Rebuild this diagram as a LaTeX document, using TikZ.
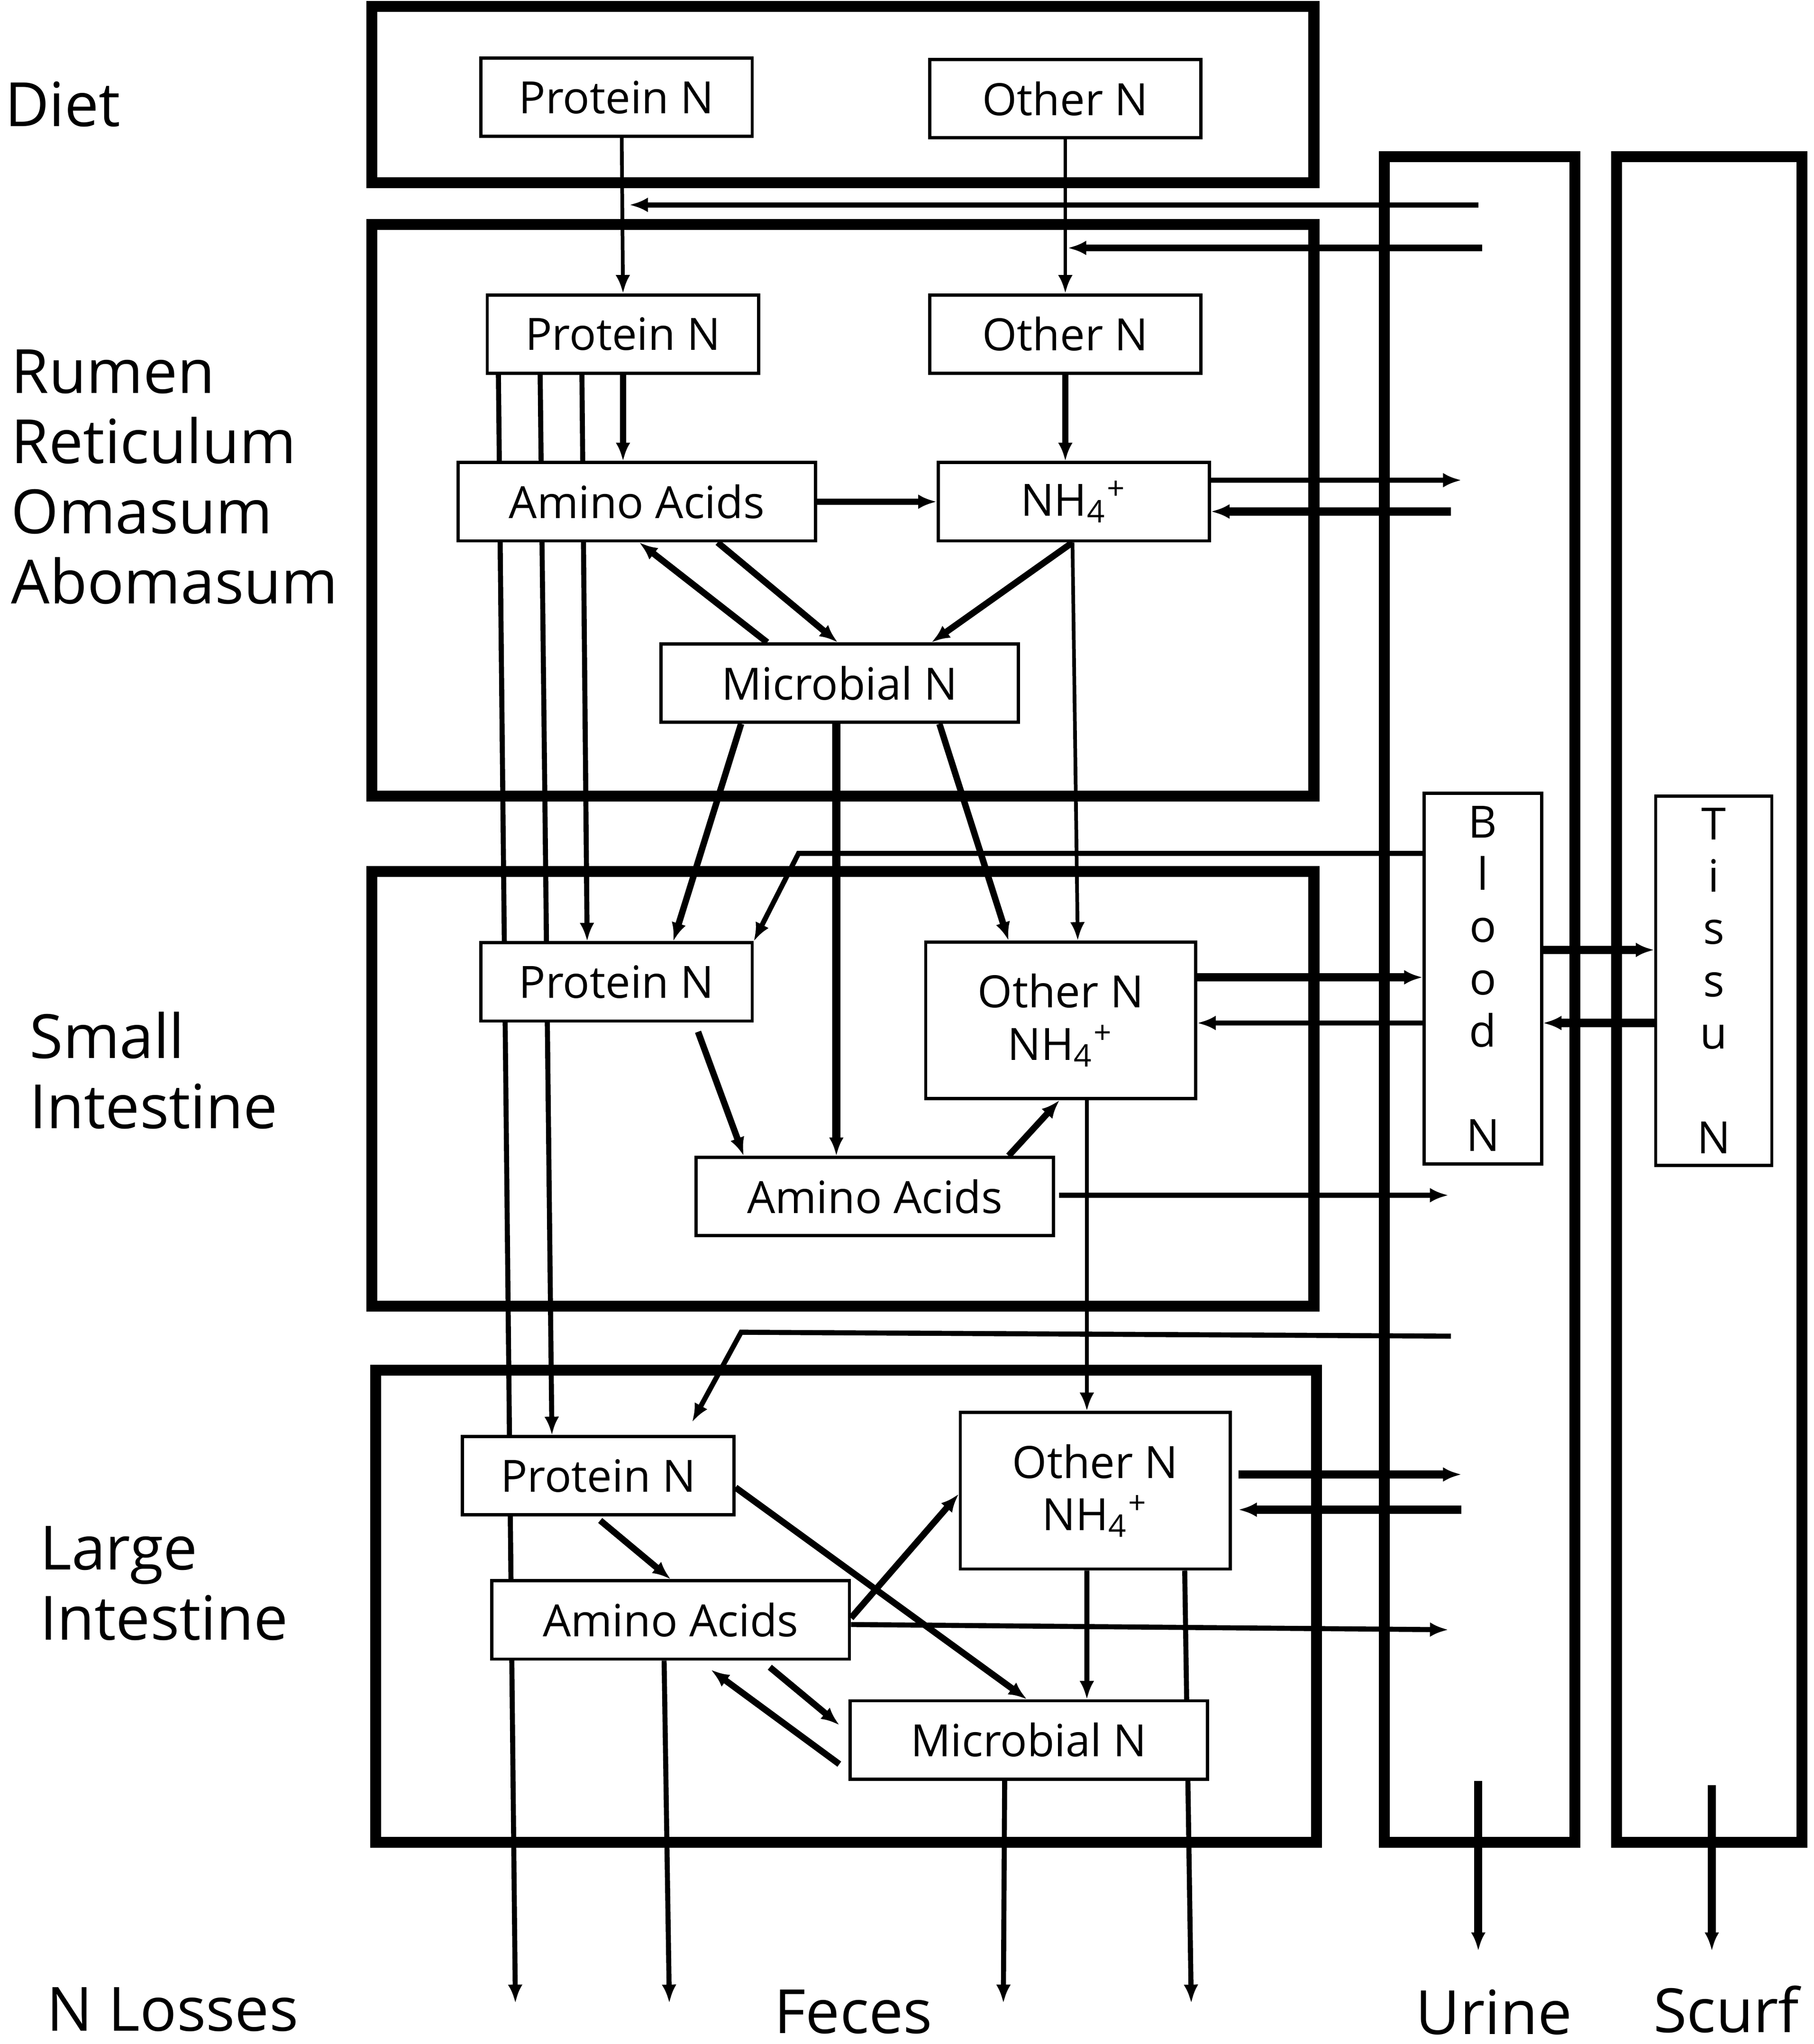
\documentclass[tikz,border=0pt]{standalone}
\usepackage{fontspec}
\setmainfont{Open Sans}
\usetikzlibrary{arrows.meta,backgrounds}

\newcommand{\boxfont}{\fontsize{9.7}{11.4}\selectfont}
\newcommand{\labfont}{\fontsize{13.3}{15.3}\selectfont}
\newcommand{\ammon}{NH\textsubscript{4}\textsuperscript{+}}

\tikzset{
  nbox/.style={draw, line width=.7pt, fill=white, inner sep=0pt, font=\boxfont,
    align=center, minimum width=2.08cm, minimum height=.6cm},
  wbox/.style={nbox, minimum width=2.74cm},
  tbox/.style={nbox, minimum width=2.07cm, minimum height=1.2cm},
  vbox/.style={nbox, minimum width=.9cm, minimum height=2.84cm},
  frame/.style={line width=2.4pt},
  lab/.style={font=\labfont, align=left, anchor=west, inner sep=0pt},
  labc/.style={font=\labfont, inner sep=0pt},
  thinarr/.style={->, line width=.8pt},
  midarr/.style={->, line width=1.1pt},
  thickarr/.style={->, line width=1.4pt},
  boldarr/.style={->, line width=1.8pt},
}

\begin{document}
\begin{tikzpicture}[>={Latex[length=4pt,width=3.2pt]}]
  \useasboundingbox (0,0) rectangle (13.9,-15.665);

  % Region labels
  \node[lab] (tDiet)  at (0.03,-0.80)   {Diet};
  \node[lab] (tRumen) at (0.08,-3.655)  {Rumen\\Reticulum\\Omasum\\Abomasum};
  \node[lab] (tSmall) at (0.22,-8.205)  {Small\\Intestine};
  \node[lab] (tLarge) at (0.30,-12.135) {Large\\Intestine};
  \node[lab] (tLoss)  at (0.35,-15.40)  {N Losses};
  \node[labc] (tFeces) at (6.54,-15.42)  {Feces};
  \node[labc] (tUrine) at (11.45,-15.42) {Urine};
  \node[labc] (tScurf) at (13.23,-15.40) {Scurf};

  % --- compartment frames ---
  \draw[frame] (2.85,-0.05) rectangle (10.07,-1.40);
  \draw[frame] (2.85,-1.72) rectangle (10.07,-6.10);
  \draw[frame] (2.85,-6.68) rectangle (10.07,-10.01);
  \draw[frame] (2.88,-10.50) rectangle (10.09,-14.12);
  \draw[frame] (10.61,-1.20) rectangle (12.07,-14.12);
  \draw[frame] (12.39,-1.20) rectangle (13.81,-14.12);

  % === Diet ===
  \node[nbox] (dProt)  at (4.725,-0.745) {Protein N};
  \node[nbox] (dOther) at (8.165,-0.755) {Other N};

  % === Rumen ===
  \node[nbox] (rProt)  at (4.775,-2.56)  {Protein N};
  \node[nbox] (rOther) at (8.165,-2.56)  {Other N};
  \node[wbox] (rAA)    at (4.88,-3.845)  {Amino Acids};
  \node[nbox] (rNH)    at (8.23,-3.845)  {\ammon};
  \node[wbox] (rMic)   at (6.435,-5.235) {Microbial N};

  % === Small intestine ===
  \node[nbox] (sProt)  at (4.725,-7.525) {Protein N};
  \node[tbox] (sOther) at (8.13,-7.82)   {Other N\\\ammon};
  \node[wbox] (sAA)    at (6.705,-9.17)  {Amino Acids};

  % === Blood and tissue ===
  \node[vbox] (blood)  at (11.365,-7.50) {B\\l\\o\\o\\d\\[11.4pt]N};
  \node[vbox, minimum width=.89cm, minimum height=2.83cm] (tissue) at (13.135,-7.515)
    {T\\i\\s\\s\\u\\[11.4pt]N};

  % === Large intestine ===
  \node[nbox] (lProt)  at (4.585,-11.31)  {Protein N};
  \node[tbox] (lOther) at (8.395,-11.425) {Other N\\\ammon};
  \node[wbox] (lAA)    at (5.14,-12.415)  {Amino Acids};
  \node[wbox] (lMic)   at (7.885,-13.335) {Microbial N};

  % free ends in the urine / scurf columns and at the bottom
  \coordinate (uA) at (11.33,-1.57);
  \coordinate (uB) at (11.36,-1.90);
  \coordinate (uC) at (11.20,-3.68);
  \coordinate (uD) at (11.12,-3.92);
  \coordinate (uE) at (11.10,-9.16);
  \coordinate (uF) at (11.12,-10.24);
  \coordinate (uG) at (11.10,-12.49);
  \coordinate (uH) at (11.20,-11.30);
  \coordinate (uI) at (11.20,-11.57);
  \coordinate (uJ) at (11.33,-13.65);
  \coordinate (uK) at (11.33,-14.95);
  \coordinate (sJ) at (13.12,-13.68);
  \coordinate (sK) at (13.12,-14.95);
  \coordinate (bA) at (6.12,-6.54);
  \coordinate (bB) at (5.68,-10.21);
  \coordinate (f1) at (3.95,-15.35);
  \coordinate (f2) at (5.13,-15.35);
  \coordinate (f3) at (7.69,-15.35);
  \coordinate (f4) at (9.13,-15.35);

  % connectors go behind the boxes
  \begin{scope}[on background layer]
    % diet -> rumen
    \draw[thinarr] ([xshift=.4mm]dProt.south) -- (rProt.north);
    \draw[thinarr] (dOther.south) -- (rOther.north);
    \draw[midarr] (uA) -- ([xshift=1mm]dProt.south |- uA);
    \draw[thickarr] (uB) -- ([xshift=.2mm]dOther.south |- uB);

    % rumen
    \draw[thickarr] (rProt.south) -- (rProt.south |- rAA.north);
    \draw[midarr] ([xshift=-9.55mm]rProt.south) -- (f1);
    \draw[midarr] ([xshift=-6.35mm]rProt.south) -- ([xshift=-3.55mm]lProt.north);
    \draw[midarr] ([xshift=-3.15mm]rProt.south) -- ([xshift=-2.25mm]sProt.north);
    \draw[thickarr] (rOther.south) -- (rOther.south |- rNH.north);
    \draw[thickarr] (rAA.east) -- (rNH.west);
    \draw[midarr] ([yshift=1.65mm]rNH.east) -- (uC);
    \draw[boldarr] (uD) -- ([yshift=-.75mm]rNH.east);
    \draw[thickarr] ([xshift=-5.55mm]rMic.north) -- ([xshift=.2mm]rAA.south);
    \draw[thickarr] ([xshift=6.2mm]rAA.south) -- ([xshift=-.15mm]rMic.north);
    \draw[thickarr] ([xshift=-.1mm]rNH.south) -- ([xshift=7.05mm]rMic.north);
    \draw[thinarr] ([xshift=-.1mm]rNH.south) -- ([xshift=1.3mm]sOther.north);

    % rumen -> small intestine
    \draw[thickarr] ([xshift=-7.55mm]rMic.south) -- ([xshift=4.35mm]sProt.north);
    \draw[boldarr] ([xshift=-.25mm]rMic.south) -- ([xshift=-2.95mm]sAA.north);
    \draw[thickarr] ([xshift=7.65mm]rMic.south) -- ([xshift=-4mm]sOther.north);
    \draw[midarr] ([yshift=9.6mm]blood.west) -- (bA) -- (sProt.north east);

    % small intestine
    \draw[thickarr] ([xshift=6.25mm,yshift=-.7mm]sProt.south) -- ([xshift=-10.05mm]sAA.north);
    \draw[thickarr] ([xshift=10.25mm]sAA.north) -- ([xshift=-.1mm]sOther.south);
    \draw[boldarr] ([yshift=3.3mm]sOther.east) -- ([yshift=.1mm]blood.west);
    \draw[midarr] ([yshift=-3.4mm]blood.west) -- ([yshift=-.2mm]sOther.east);
    \draw[boldarr] ([yshift=2.2mm]blood.east) -- ([yshift=2.35mm]tissue.west);
    \draw[boldarr] ([yshift=-3.25mm]tissue.west) -- ([yshift=-3.4mm]blood.east);
    \draw[midarr] ([xshift=.3mm,yshift=.1mm]sAA.east) -- (uE);
    \draw[thinarr] ([xshift=2mm]sOther.south) -- ([xshift=-.65mm]lOther.north);
    \draw[midarr] (uF) -- (bB) -- ([xshift=7.2mm,yshift=1mm]lProt.north);

    % large intestine
    \draw[thickarr] ([xshift=.15mm,yshift=-.3mm]lProt.south) -- (lAA.north);
    \draw[thickarr] ([yshift=-.9mm]lProt.east) -- ([xshift=-.15mm]lMic.north);
    \draw[thickarr] ([yshift=.15mm]lAA.east) -- ([yshift=-.25mm]lOther.west);
    \draw[midarr] ([yshift=-.35mm]lAA.east) -- (uG);
    \draw[boldarr] ([xshift=.5mm,yshift=1.25mm]lOther.east) -- (uH);
    \draw[boldarr] (uI) -- ([xshift=.5mm,yshift=-1.45mm]lOther.east);
    \draw[midarr] ([xshift=-.65mm]lOther.south) -- ([xshift=4.45mm]lMic.north);
    \draw[midarr] ([xshift=6.85mm]lOther.south) -- (f4);
    \draw[thickarr] ([xshift=7.6mm,yshift=-.5mm]lAA.south) -- ([xshift=-.7mm,yshift=1.15mm]lMic.west);
    \draw[thickarr] ([xshift=-.7mm,yshift=-1.85mm]lMic.west) -- ([xshift=3.1mm,yshift=-.7mm]lAA.south);
    \draw[midarr] ([xshift=-.5mm]lAA.south) -- (f2);
    \draw[midarr] ([xshift=-1.85mm]lMic.south) -- (f3);

    % urine and scurf
    \draw[boldarr] (uJ) -- (uK);
    \draw[boldarr] (sJ) -- (sK);
  \end{scope}
\end{tikzpicture}
\end{document}
